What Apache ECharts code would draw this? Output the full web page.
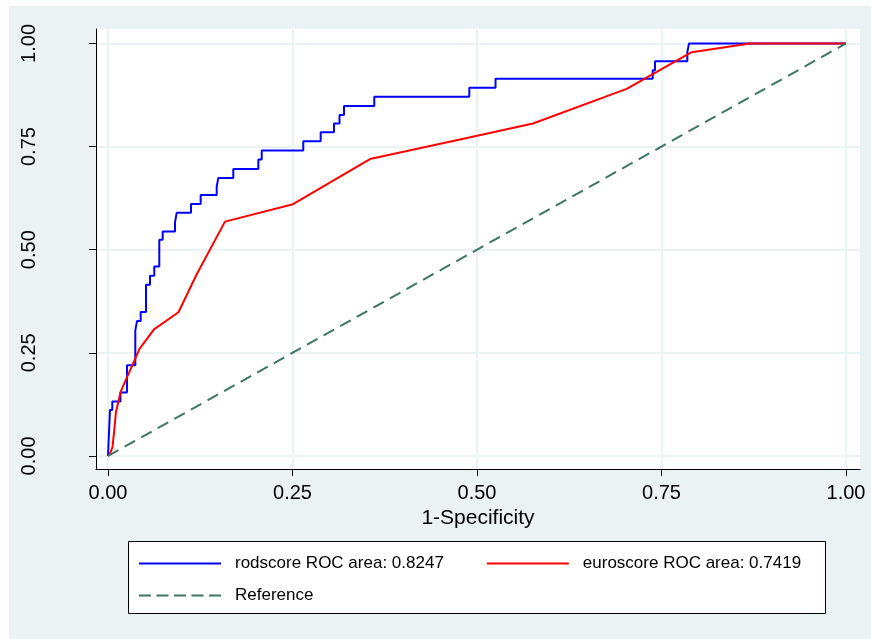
<!DOCTYPE html>
<html>
<head>
<meta charset="utf-8">
<script src="https://cdn.jsdelivr.net/npm/echarts@6/dist/echarts.min.js"></script>
<style>
html,body{margin:0;padding:0;background:#fff;}
#chart{width:871px;height:639px;}
</style>
</head>
<body>
<div id="chart"></div>
<script>
// ---- data ----
const tickValues = [0, 0.25, 0.5, 0.75, 1];
const tickLabels = ['0.00', '0.25', '0.50', '0.75', '1.00'];
const xTitle = '1-Specificity';

const rodName = 'rodscore ROC area: 0.8247';
const rodFpr = [0, 0.0027, 0.0058, 0.0169, 0.0257, 0.0370, 0.0393, 0.0443, 0.0515, 0.0569, 0.0627, 0.0695, 0.0741, 0.0908, 0.0931, 0.1125, 0.1256, 0.1473, 0.1495, 0.1698, 0.2037, 0.2083, 0.2646, 0.2882, 0.3062, 0.3137, 0.3198, 0.3608, 0.4896, 0.5251, 0.7381, 0.7412, 0.7850, 0.7873, 1];
const rodTpr = [0, 0.1117, 0.1323, 0.1536, 0.2197, 0.3046, 0.3269, 0.3488, 0.4150, 0.4369, 0.4595, 0.5243, 0.5444, 0.5663, 0.5898, 0.6109, 0.6328, 0.6536, 0.6740, 0.6959, 0.7184, 0.7403, 0.7629, 0.7847, 0.8058, 0.8265, 0.8483, 0.8706, 0.8925, 0.9143, 0.9352, 0.9570, 0.9789, 1.0, 1.0];

const euroName = 'euroscore ROC area: 0.7419';
const euroFpr = [0, 0.0027, 0.0061, 0.0081, 0.0108, 0.0172, 0.0427, 0.0623, 0.0955, 0.1199, 0.1585, 0.2507, 0.3550, 0.4770, 0.5759, 0.7028, 0.7909, 0.8699, 1];
const euroTpr = [0, 0.0049, 0.0218, 0.0558, 0.1068, 0.1561, 0.2597, 0.3070, 0.3483, 0.4393, 0.5680, 0.6104, 0.7197, 0.7670, 0.8058, 0.8900, 0.9789, 1.0, 1.0];

const refName = 'Reference';
const refX = [0, 1];
const refY = [0, 1];

// ---- build ----
function stepPoints(xs, ys) {
  const pts = [[xs[0], ys[0]]];
  for (let i = 1; i < xs.length; i++) {
    pts.push([xs[i], ys[i - 1]]);
    pts.push([xs[i], ys[i]]);
  }
  return pts;
}
function zipPoints(xs, ys) { return xs.map((x, i) => [x, ys[i]]); }

const FONT = '"Liberation Sans", Arial, sans-serif';
const BG = '#EAF2F3';
const SOLID_ICON = 'path://M0,0H82V2H0Z';
const DASH_ICON = 'path://M0,0H12V2H0Z M17.5,0H29.5V2H17.5Z M35,0H47V2H35Z M52.5,0H64.5V2H52.5Z M70,0H82V2H70Z';

const chart = echarts.init(document.getElementById('chart'), null, {renderer: 'canvas'});
const labelFmt = v => tickLabels[tickValues.indexOf(Math.round(v * 100) / 100)] || '';

const legendBase = {
  orient: 'horizontal', z: 10,
  itemWidth: 82, itemHeight: 14, itemGap: 43, padding: 0,
  itemStyle: {borderWidth: 0},
  textStyle: {color: '#000', fontSize: 17, fontFamily: FONT, padding: [0, 0, 0, 9]},
  selectedMode: false
};

chart.setOption({
  backgroundColor: '#ffffff',
  animation: false,
  graphic: [
    {type: 'rect', z: -10, silent: true, shape: {x: 9, y: 6, width: 862, height: 633}, style: {fill: BG}},
    {type: 'rect', z: 5, silent: true, shape: {x: 128.5, y: 541.5, width: 697, height: 72}, style: {fill: '#fff', stroke: '#000', lineWidth: 1}}
  ],
  grid: {left: 96, right: 11, top: 29, bottom: 170, show: true, backgroundColor: '#fff', borderWidth: 0},
  xAxis: {
    type: 'value', min: -0.01626, max: 1.019,
    name: xTitle, nameLocation: 'middle', nameGap: 37,
    nameTextStyle: {color: '#000', fontSize: 21, fontFamily: FONT},
    axisLine: {show: true, onZero: false, lineStyle: {color: '#000', width: 1}},
    axisTick: {show: true, length: 7, customValues: tickValues, lineStyle: {color: '#000'}},
    axisLabel: {customValues: tickValues, formatter: labelFmt, color: '#000', fontSize: 20, fontFamily: FONT, margin: 14},
    splitLine: {show: true, lineStyle: {color: BG, width: 2}}
  },
  yAxis: {
    type: 'value', min: -0.0316, max: 1.035,
    axisLine: {show: true, onZero: false, lineStyle: {color: '#000', width: 1}},
    axisTick: {show: true, length: 7, customValues: tickValues, lineStyle: {color: '#000'}},
    axisLabel: {customValues: tickValues, formatter: labelFmt, rotate: 90, color: '#000', fontSize: 20, fontFamily: FONT, margin: 57},
    splitLine: {show: true, lineStyle: {color: BG, width: 2}}
  },
  legend: [
    Object.assign({}, legendBase, {
      left: 139, top: 555,
      data: [{name: rodName, icon: SOLID_ICON}, {name: euroName, icon: SOLID_ICON}]
    }),
    Object.assign({}, legendBase, {
      left: 139, top: 587,
      data: [{name: refName, icon: DASH_ICON}]
    })
  ],
  series: [
    {
      name: rodName, type: 'line', data: stepPoints(rodFpr, rodTpr),
      symbol: 'none', color: '#0000ff', lineStyle: {width: 2, color: '#0000ff'}, z: 2
    },
    {
      name: euroName, type: 'line', data: zipPoints(euroFpr, euroTpr),
      symbol: 'none', color: '#ff0000', lineStyle: {width: 2, color: '#ff0000'}, z: 3
    },
    {
      name: refName, type: 'line', data: zipPoints(refX, refY),
      symbol: 'none', color: '#3d7566', lineStyle: {width: 2, color: '#3d7566', type: [12, 7]}, z: 4
    }
  ]
});
</script>
</body>
</html>
